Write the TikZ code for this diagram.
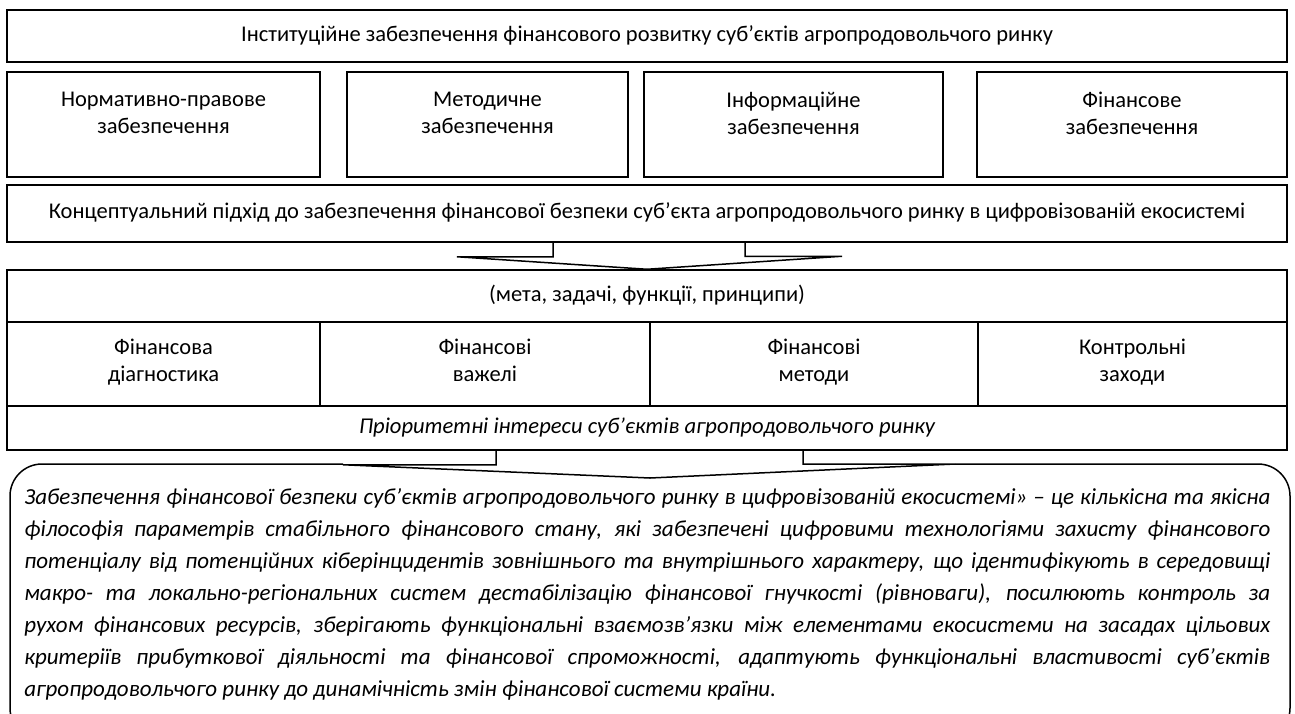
\documentclass[tikz,border=0pt]{standalone}
\usepackage{fontspec}
\setmainfont{Carlito}
\usetikzlibrary{positioning}
\tikzset{
box/.style={draw, line width=0.75pt, inner sep=0pt},
txt/.style={align=center, font=\fontsize{11.25}{13.5}\selectfont,
    execute at begin node=\strut, execute at end node=\strut},
itxt/.style={txt, font=\fontsize{11.3}{13.5}\selectfont\itshape},
chev/.style={line width=0.75pt, line join=miter}
}

\begin{document}
\begin{tikzpicture}[x=0.5pt,y=-0.5pt]
		\useasboundingbox (0,0) rectangle (1295,713);
		\clip (0,0) rectangle (1295,713);

		\node[box, txt, minimum width=640pt, minimum height=26pt] (inst) at (647,36) {Інституційне забезпечення фінансового розвитку суб’єктів агропродовольчого ринку};

		\node[box, minimum width=156.5pt, minimum height=52.5pt] (norm) at (163.5,124.5) {};
		\node[box, minimum width=140.5pt, minimum height=52.5pt] (method) at (487.5,124.5) {};
		\node[box, minimum width=149.5pt, minimum height=52.5pt] (inform) at (793.5,124.5) {};
		\node[box, minimum width=155pt, minimum height=52.5pt] (finsup) at (1132,124.5) {};
		\node[txt] (norm_t) at ([yshift=-23pt]norm.north) {Нормативно-правове\\забезпечення};
		\node[txt] (method_t) at ([yshift=-23pt]method.north) {Методичне\\забезпечення};
		\node[txt] (inform_t) at ([yshift=-23pt]inform.north) {Інформаційне\\забезпечення};
		\node[txt] (finsup_t) at ([yshift=-23pt]finsup.north) {Фінансове\\забезпечення};

		\node[box, txt, minimum width=640pt, minimum height=28.5pt] (concept) at (647,213.5) {Концептуальний підхід до забезпечення фінансової безпеки суб’єкта агропродовольчого ринку в цифровізованій екосистемі};
		\node[box, txt, minimum width=640pt, minimum height=26pt] (aims) at (647,296) {(мета, задачі, функції, принципи)};

		\node[box, txt, minimum width=156.5pt, minimum height=42pt] (diag) at (163.5,364) {Фінансова\\діагностика};
		\node[box, txt, minimum width=165pt, minimum height=42pt] (levers) at (485,364) {Фінансові\\важелі};
		\node[box, txt, minimum width=164pt, minimum height=42pt] (methods) at (814,364) {Фінансові\\методи};
		\node[box, txt, minimum width=154.5pt, minimum height=42pt] (control) at (1132.5,364) {Контрольні\\заходи};

		\node[box, itxt, minimum width=640pt, minimum height=22pt] (prior) at (647,428) {Пріоритетні інтереси суб’єктів агропродовольчого ринку};

		% chevron under the concept
		\draw[chev] ([xshift=-47pt]concept.south) -- ++(0,-7pt) -- ++(-48pt,0) -- (aims.north)
			-- ([xshift=97.5pt,yshift=6.5pt]aims.north) -- ++(-48.5pt,0) -- ([xshift=49pt]concept.south);

		% rounded frame with the definition
		\coordinate (tip) at (650,478);
		\draw[chev, rounded corners=16pt] (343,464) -- (10,464) -- (10,740) -- (1290,740) -- (1290,464) -- (955,464);
		\draw[chev] ([xshift=-75.5pt]prior.south) -- ++(0,-7pt) -- ++(-76.5pt,0) -- (tip)
			-- ([xshift=152.5pt,yshift=7pt]tip) -- ++(-76pt,0) -- ([xshift=78pt]prior.south);

		\node[anchor=north west, text width=623pt, inner sep=0pt, align=justify, font=\fontsize{11.5}{16}\selectfont\itshape] (defn) at (24,488) {\hyphenpenalty=10000
			Забезпечення фінансової безпеки суб’єктів агропродовольчого ринку в цифровізованій екосистемі» – це кількісна та якісна\linebreak
			філософія параметрів стабільного фінансового стану, які забезпечені цифровими технологіями захисту фінансового\linebreak
			потенціалу від потенційних кіберінцидентів зовнішнього та внутрішнього характеру, що ідентифікують в середовищі\linebreak
			макро- та локально-регіональних систем дестабілізацію фінансової гнучкості (рівноваги), посилюють контроль за\linebreak
			рухом фінансових ресурсів, зберігають функціональні взаємозв’язки між елементами екосистеми на засадах цільових\linebreak
			критеріїв прибуткової діяльності та фінансової спроможності, адаптують функціональні властивості суб’єктів\linebreak
			агропродовольчого ринку до динамічність змін фінансової системи країни.};

	\end{tikzpicture}
\end{document}
